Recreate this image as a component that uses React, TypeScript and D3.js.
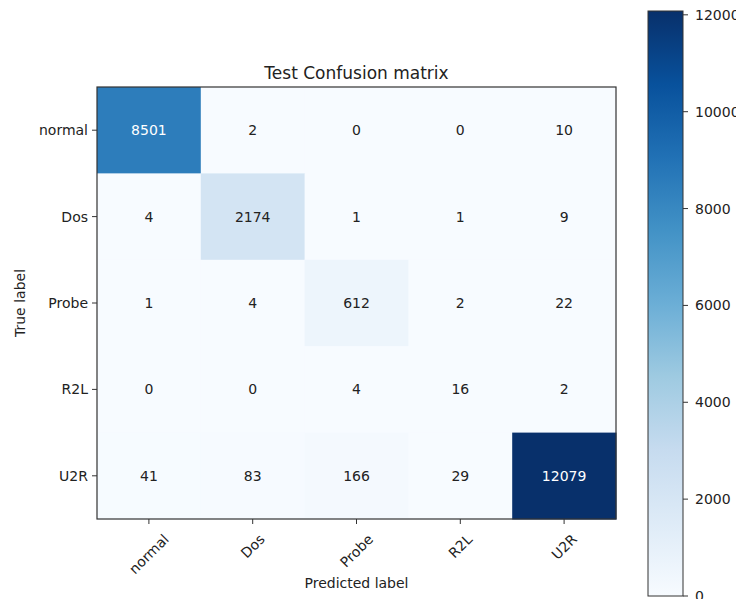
import React, { useEffect, useRef } from "react";
import * as d3 from "d3";

const classes = ["normal", "Dos", "Probe", "R2L", "U2R"];
const rowNormal = [8501, 2, 0, 0, 10];
const rowDos = [4, 2174, 1, 1, 9];
const rowProbe = [1, 4, 612, 2, 22];
const rowR2L = [0, 0, 4, 16, 2];
const rowU2R = [41, 83, 166, 29, 12079];
const matrix = [rowNormal, rowDos, rowProbe, rowR2L, rowU2R];
const colorbarTicks = [0, 2000, 4000, 6000, 8000, 10000, 12000];
const titleText = "Test Confusion matrix";
const xLabelText = "Predicted label";
const yLabelText = "True label";

const BLUES = ["#f7fbff", "#deebf7", "#c6dbef", "#9ecae1", "#6baed6", "#4292c6", "#2171b5", "#08519c", "#08306b"];

const W = 736, H = 599;
const FONT = "DejaVu Sans, Verdana, sans-serif";

export default function App() {
  const ref = useRef<SVGSVGElement | null>(null);

  useEffect(() => {
    const svg = d3.select(ref.current);
    svg.selectAll("*").remove();

    const left = 97, right = 616, top = 87, bottom = 519;
    const vmax = d3.max(matrix.flat()) as number;
    const cmap = d3.scaleLinear<string>()
      .domain(BLUES.map((_, i) => (i / (BLUES.length - 1)) * vmax))
      .range(BLUES)
      .interpolate(d3.interpolateRgb)
      .clamp(true);

    const x = d3.scaleBand<string>().domain(classes).range([left, right]);
    const y = d3.scaleBand<string>().domain(classes).range([top, bottom]);

    const g = svg.append("g");
    matrix.forEach((row, i) => {
      row.forEach((v, j) => {
        g.append("rect")
          .attr("x", x(classes[j])!)
          .attr("y", y(classes[i])!)
          .attr("width", x.bandwidth() + 0.5)
          .attr("height", y.bandwidth() + 0.5)
          .attr("fill", cmap(v));
      });
    });
    matrix.forEach((row, i) => {
      row.forEach((v, j) => {
        g.append("text")
          .attr("x", x(classes[j])! + x.bandwidth() / 2)
          .attr("y", y(classes[i])! + y.bandwidth() / 2)
          .attr("text-anchor", "middle")
          .attr("dominant-baseline", "central")
          .attr("font-family", FONT)
          .attr("font-size", 14)
          .attr("fill", v > vmax / 2 ? "#ffffff" : "#222222")
          .text(String(v));
      });
    });

    // frame
    svg.append("rect")
      .attr("x", left).attr("y", top)
      .attr("width", right - left).attr("height", bottom - top)
      .attr("fill", "none").attr("stroke", "#333").attr("stroke-width", 1.2);

    // y ticks
    classes.forEach((c) => {
      const cy = y(c)! + y.bandwidth() / 2;
      svg.append("line").attr("x1", left - 5).attr("x2", left).attr("y1", cy).attr("y2", cy)
        .attr("stroke", "#333").attr("stroke-width", 1);
      svg.append("text").attr("x", left - 9).attr("y", cy)
        .attr("text-anchor", "end").attr("dominant-baseline", "central")
        .attr("font-family", FONT).attr("font-size", 14).attr("fill", "#222").text(c);
    });

    // x ticks
    classes.forEach((c) => {
      const cx = x(c)! + x.bandwidth() / 2;
      svg.append("line").attr("x1", cx).attr("x2", cx).attr("y1", bottom).attr("y2", bottom + 5)
        .attr("stroke", "#333").attr("stroke-width", 1);
      const t = svg.append("text")
        .attr("text-anchor", "middle").attr("dominant-baseline", "central")
        .attr("font-family", FONT).attr("font-size", 14).attr("fill", "#222").text(c);
      const w = (t.node() as SVGTextElement).getComputedTextLength();
      const hb = (w + 16) * Math.SQRT1_2;
      const cyy = bottom + 12 + hb / 2;
      t.attr("transform", `translate(${cx},${cyy}) rotate(-45)`);
    });

    // title and labels
    svg.append("text").attr("x", (left + right) / 2).attr("y", 79)
      .attr("text-anchor", "middle").attr("font-family", FONT).attr("font-size", 17)
      .attr("fill", "#222").text(titleText);
    svg.append("text").attr("x", (left + right) / 2).attr("y", 588)
      .attr("text-anchor", "middle").attr("font-family", FONT).attr("font-size", 14)
      .attr("fill", "#222").text(xLabelText);
    svg.append("text").attr("transform", `translate(25,${(top + bottom) / 2}) rotate(-90)`)
      .attr("text-anchor", "middle").attr("font-family", FONT).attr("font-size", 14)
      .attr("fill", "#222").text(yLabelText);

    // colorbar
    const cbL = 648, cbR = 683, cbTop = 11, cbBot = 596;
    const cy = d3.scaleLinear().domain([0, vmax]).range([cbBot, cbTop]);
    const defs = svg.append("defs");
    const grad = defs.append("linearGradient").attr("id", "cbgrad")
      .attr("x1", 0).attr("y1", 1).attr("x2", 0).attr("y2", 0);
    BLUES.forEach((col, i) => {
      grad.append("stop").attr("offset", `${(i / (BLUES.length - 1)) * 100}%`).attr("stop-color", col);
    });
    svg.append("rect").attr("x", cbL).attr("y", cbTop).attr("width", cbR - cbL).attr("height", cbBot - cbTop)
      .attr("fill", "url(#cbgrad)").attr("stroke", "#333").attr("stroke-width", 1);
    colorbarTicks.forEach((tv) => {
      const yy = cy(tv);
      svg.append("line").attr("x1", cbR).attr("x2", cbR + 5).attr("y1", yy).attr("y2", yy)
        .attr("stroke", "#333").attr("stroke-width", 1);
      svg.append("text").attr("x", cbR + 12).attr("y", yy)
        .attr("dominant-baseline", "central").attr("font-family", FONT).attr("font-size", 14)
        .attr("fill", "#222").text(String(tv));
    });
  }, []);

  return (
    <svg
      ref={ref}
      width={W}
      height={H}
      style={{ position: "absolute", left: 0, top: 0, background: "#fff", display: "block" }}
    />
  );
}
